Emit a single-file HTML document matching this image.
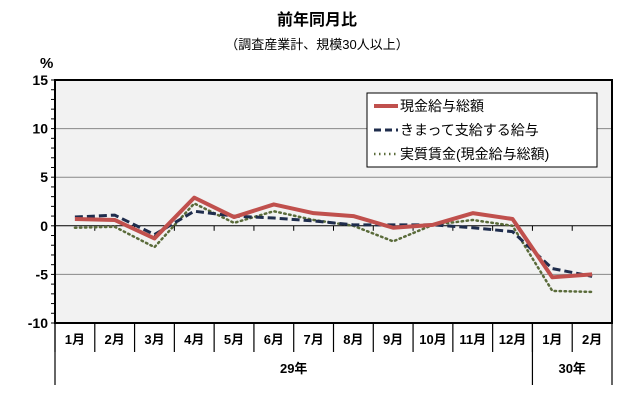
<!DOCTYPE html>
<html><head><meta charset="utf-8"><style>
body{margin:0;background:#fff;font-family:"Liberation Sans","Noto Sans CJK JP",sans-serif}
</style></head><body>
<svg width="634" height="406" xmlns="http://www.w3.org/2000/svg" style="font-family:'Liberation Sans','Noto Sans CJK JP',sans-serif">
<text x="317" y="25" text-anchor="middle" font-size="16" font-weight="bold">前年同月比</text>
<text x="317" y="49" text-anchor="middle" font-size="13">（調査産業計、規模30人以上）</text>
<text x="40" y="68" font-size="15" font-weight="bold">%</text>
<rect x="55" y="80" width="557" height="243" fill="#f2f2f2"/>
<g id="grid"></g>
<g id="series"></g>
<rect x="55" y="80" width="557" height="243" fill="none" stroke="#000" stroke-width="2"/>
<g id="xaxis"></g>
<g>
<rect x="367" y="93" width="230" height="74" fill="#fff" stroke="#000" stroke-width="1"/>
<line x1="374" y1="106" x2="398" y2="106" stroke="#c0504d" stroke-width="4"/>
<text x="400" y="111" font-size="14">現金給与総額</text>
<line x1="374" y1="130" x2="398" y2="130" stroke="#1f2d4d" stroke-width="3" stroke-dasharray="7,4"/>
<text x="400" y="135" font-size="14">きまって支給する給与</text>
<line x1="374" y1="154" x2="398" y2="154" stroke="#5a6b3a" stroke-width="2.5" stroke-dasharray="1.5,3.5"/>
<text x="400" y="159" font-size="14">実質賃金(現金給与総額)</text>
</g>
</svg>
<script>
const categories=["1月","2月","3月","4月","5月","6月","7月","8月","9月","10月","11月","12月","1月","2月"];
const years=[{label:"29年",from:0,to:11},{label:"30年",from:12,to:13}];
const yTicks=[15,10,5,0,-5,-10];
const totalWage=[0.7,0.6,-1.3,2.9,0.9,2.2,1.3,1.0,-0.2,0.1,1.3,0.7,-5.3,-5.0];
const regularWage=[0.9,1.1,-0.9,1.5,1.0,0.8,0.5,0.1,0.1,0.1,-0.2,-0.6,-4.4,-5.2];
const realWage=[-0.2,-0.1,-2.2,2.3,0.3,1.5,0.6,0.0,-1.6,0.1,0.6,0.0,-6.7,-6.8];
const NS="http://www.w3.org/2000/svg";
const L=55,R=612,T=80,B=323,ymin=-10,ymax=15;
const bw=(R-L)/categories.length;
const xc=i=>L+bw*(i+0.5);
const y=v=>B-(v-ymin)/(ymax-ymin)*(B-T);
function mk(t,a,p){const e=document.createElementNS(NS,t);for(const k in a)e.setAttribute(k,a[k]);p.appendChild(e);return e;}
const grid=document.getElementById('grid'),xa=document.getElementById('xaxis'),ser=document.getElementById('series');
yTicks.forEach(v=>{
 if(v!==ymin&&v!==ymax){const g=mk('line',{x1:L,x2:R,y1:y(v),y2:y(v),stroke:v===0?'#000':'#888','stroke-width':1},grid);
 
 }
 const t=mk('text',{x:48,y:y(v)+5,'text-anchor':'end','font-size':14,'font-weight':'bold'},grid);t.textContent=v;
 
 
});
for(let v=ymin;v<=ymax;v++){mk('line',{x1:L-4,x2:L,y1:y(v),y2:y(v),stroke:'#000','stroke-width':1},grid);}
categories.forEach((c,i)=>{
 mk('line',{x1:L+bw*i,x2:L+bw*i,y1:y(0),y2:y(0)+5,stroke:'#000'},grid);
 mk('line',{x1:L+bw*i,x2:L+bw*i,y1:B,y2:352,stroke:'#000','stroke-width':1.2},xa);
 const t=mk('text',{x:xc(i),y:344,'text-anchor':'middle','font-size':13,'font-weight':'bold'},xa);t.textContent=c;
 
 
});
mk('line',{x1:R,x2:R,y1:B,y2:385,stroke:'#000','stroke-width':1.2},xa);
years.forEach(yr=>{
 const x0=L+bw*yr.from;
 mk('line',{x1:x0,x2:x0,y1:B,y2:385,stroke:'#000','stroke-width':1.2},xa);
 const t=mk('text',{x:(x0+L+bw*(yr.to+1))/2,y:373,'text-anchor':'middle','font-size':13,'font-weight':'bold'},xa);t.textContent=yr.label;
 
 
});
function line(data,style,name){
 const p=mk('polyline',Object.assign({points:data.map((v,i)=>xc(i)+','+y(v)).join(' '),fill:'none','stroke-linejoin':'round'},style),ser);
 
 
}
line(realWage,{stroke:'#5a6b3a','stroke-width':2.5,'stroke-dasharray':'1.5,3.5','stroke-linecap':'round'},'series-real-wage');
line(regularWage,{stroke:'#1f2d4d','stroke-width':3,'stroke-dasharray':'8,4'},'series-regular-wage');
line(totalWage,{stroke:'#c0504d','stroke-width':4},'series-total-wage');
</script>
</body></html>
